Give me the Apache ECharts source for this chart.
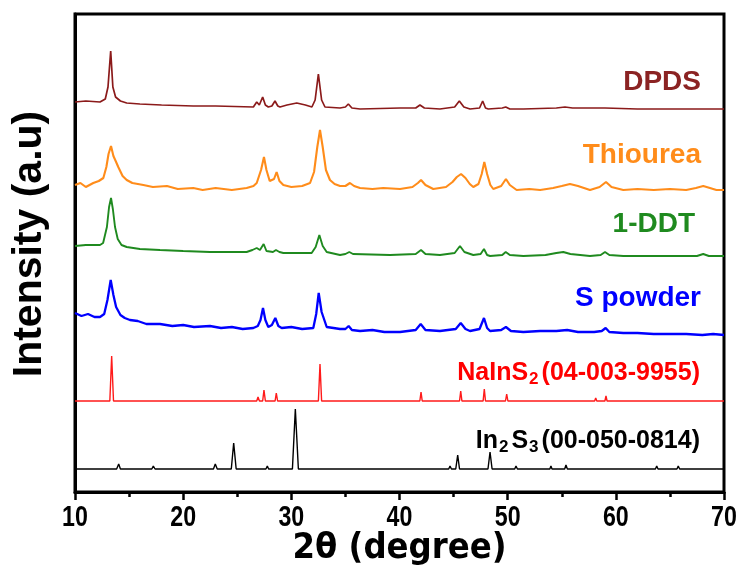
<!DOCTYPE html>
<html>
<head>
<meta charset="utf-8">
<script src="https://cdn.jsdelivr.net/npm/echarts@6/dist/echarts.min.js"></script>
<style>
  html, body { margin: 0; padding: 0; background: #fff; }
  #chart { width: 739px; height: 574px; }
</style>
</head>
<body>
<div id="chart"></div>
<script>
// XRD patterns, stacked with vertical offsets (intensity in a.u.), x = 2θ in degrees.
const xTicks = [10, 20, 30, 40, 50, 60, 70];

const dpds = [[10,390],[11,391],[12.31,390],[12.8,393],[13.05,405],[13.3,441],[13.5,405],[13.75,395],[14.2,391],[14.78,389],[16,388],[18,387],[20.94,386],[23,386],[26.49,385],[26.8,390],[27.04,387],[27.35,395],[27.6,387],[27.87,385],[28.2,386],[28.49,391],[28.75,386],[28.95,385],[29.6,387],[30.5,389],[31.3,387],[31.9,385],[32.2,392],[32.5,418],[32.8,392],[33.11,385],[34.5,384],[35.0,385],[35.27,388],[35.6,384],[36.35,383],[40.05,384],[41.5,384],[41.89,387],[42.3,384],[43.74,383],[45.1,385],[45.53,391],[45.95,385],[46.52,383],[47.4,384],[47.69,391],[47.95,384],[48.21,383],[49.5,384],[49.82,385],[50.2,383],[51.45,383],[54.5,384],[55.3,385],[56,384],[58.5,384],[59,384],[62,383],[66,383],[70,383]];

const thiourea = [[10,307],[10.5,309],[11,305],[11.69,309],[12.2,311],[12.62,314],[12.9,325],[13.1,338],[13.33,346],[13.55,336],[13.8,330],[14.0,325],[14.4,316],[14.78,312],[15.3,309],[16.32,307],[17.2,305],[18.5,306],[19.5,303],[20.94,304],[21.8,302],[23,304],[24.5,302],[25.87,304],[26.5,306],[26.8,309],[27.2,322],[27.47,335],[27.7,322],[28.0,311],[28.18,309],[28.4,313],[28.64,320],[28.9,311],[29.26,307],[30,305],[31,306],[31.73,309],[32.1,320],[32.4,345],[32.65,362],[32.9,345],[33.2,322],[33.57,312],[34.0,308],[34.5,306],[35.0,306],[35.42,309],[35.8,306],[36.35,304],[37.5,303],[38.5,304],[40.05,303],[41.2,305],[41.7,309],[41.99,312],[42.4,307],[43.12,303],[44.3,305],[44.9,310],[45.3,315],[45.69,318],[46.1,314],[46.5,308],[46.82,305],[47.3,308],[47.6,318],[47.84,330],[48.1,318],[48.4,307],[48.67,303],[49.4,306],[49.84,313],[50.2,307],[50.83,302],[52,303],[53,302],[54.2,304],[55,306],[55.76,308],[56.5,306],[57.61,302],[58.5,305],[59.09,310],[59.6,305],[60.69,302],[62,303],[63.5,302],[65,303],[66.5,302],[67.4,304],[68.08,306],[68.7,304],[69.3,302],[70,302]];

const ddt = [[10,246],[11,247],[12.31,247],[12.6,249],[12.95,265],[13.15,285],[13.33,294],[13.5,283],[13.7,265],[13.95,253],[14.3,247],[14.78,245],[16,243],[17.86,242],[20,241],[22.48,240],[24,240],[25.87,240],[26.4,242],[26.8,244],[27.1,242],[27.44,248],[27.7,241],[27.87,240],[28.3,240],[28.58,242],[28.9,240],[29.26,239],[31.88,239],[32.25,245],[32.59,257],[32.9,246],[33.27,240],[34.5,237],[35.0,238],[35.36,240],[35.7,238],[39.12,237],[41.5,238],[41.99,242],[42.4,238],[43.74,237],[45.1,239],[45.59,246],[46.0,240],[46.82,237],[47.5,238],[47.81,243],[48.1,237],[48.37,236],[49.5,237],[49.82,240],[50.2,237],[51.45,236],[53.5,237],[54.5,239],[55.14,240],[55.8,238],[57.61,236],[58.6,237],[59.0,240],[59.4,237],[60.69,236],[63,236],[65,236],[67.5,236],[68.08,238],[68.6,236],[70,236]];

const sPowder = [[10,179],[10.6,176],[11.2,178],[11.8,175],[12.31,175],[12.7,178],[13.0,192],[13.3,212],[13.55,197],[13.8,185],[14.2,177],[14.6,174],[15.08,172],[15.8,171],[16.6,168],[17.86,168],[19,166],[20,167],[21,165],[22.48,166],[23.5,164],[24.5,165],[25.5,163],[26.49,164],[26.9,166],[27.15,172],[27.38,184],[27.6,172],[27.87,165],[28.2,167],[28.52,174],[28.8,166],[29.11,164],[30,165],[31,163],[32.03,164],[32.3,178],[32.53,199],[32.8,180],[33.27,165],[33.9,164],[34.5,163],[35.0,163],[35.3,166],[35.6,162],[36.35,161],[37.5,162],[38.6,160],[40.05,160],[41.5,162],[41.96,168],[42.4,162],[43.74,161],[45.2,163],[45.66,169],[46.1,163],[46.52,161],[47.4,163],[47.81,174],[48.1,164],[48.37,161],[49.4,162],[49.84,165],[50.3,161],[51.45,160],[53,161],[54.5,161],[55.5,162],[56.5,160],[58,160],[58.7,161],[59.06,164],[59.4,160],[60.69,159],[62,159],[63.5,158],[65,158],[66.5,158],[68,157],[69,158],[70,157]];

const naInS2 = [[10,91],[13.22,91],[13.39,136],[13.56,91],[26.8,91],[26.92,95],[27.05,91],[27.35,91],[27.47,102],[27.6,91],[28.5,91],[28.61,99],[28.73,91],[32.5,91],[32.65,128],[32.8,91],[35.32,91],[35.42,93],[35.52,91],[41.88,91],[41.99,100],[42.1,91],[45.55,91],[45.66,101],[45.77,91],[47.73,91],[47.84,103],[47.95,91],[49.8,91],[49.91,98],[50.02,91],[53.75,91],[53.85,93],[53.95,91],[55.66,91],[55.76,93],[55.86,91],[58.04,91],[58.14,94],[58.24,91],[58.99,91],[59.09,96],[59.19,91],[65.37,91],[65.47,93],[65.57,91],[68.14,91],[68.24,93],[68.34,91],[70,91]];

const in2S3 = [[10,23],[13.85,23],[14.04,28],[14.2,23],[17.1,23],[17.24,26],[17.4,23],[21.95,23],[22.08,25],[22.2,23],[22.8,23],[22.97,28],[23.15,23],[24.45,23],[24.67,49],[24.9,23],[27.65,23],[27.78,26],[27.9,23],[30.1,23],[30.37,83],[30.65,23],[36.15,23],[36.28,25],[36.4,23],[44.55,23],[44.67,26],[44.8,23],[45.2,23],[45.38,37],[45.55,23],[48.18,23],[48.37,40],[48.56,23],[50.65,23],[50.77,26],[50.9,23],[53.9,23],[54.0,26],[54.1,23],[55.27,23],[55.39,27],[55.52,23],[59.6,23],[59.7,25],[59.82,23],[61.8,23],[61.9,25],[62.02,23],[63.66,23],[63.78,26],[63.9,23],[65.65,23],[65.77,26],[65.9,23],[70,23]];

const seriesNames = ['DPDS', 'Thiourea', '1-DDT', 'S powder', 'NaInS2', 'In2S3'];
const seriesData = [dpds, thiourea, ddt, sPowder, naInS2, in2S3];
const lineColors = ['#8b1a1a', '#ff8c1a', '#1f8a1f', '#0000ff', '#ff1a1a', '#000000'];
const lineWidths = [1.7, 2.1, 1.9, 2.3, 1.4, 1.4];

const chart = echarts.init(document.getElementById('chart'), null, { renderer: 'canvas' });

const sans = '"Liberation Sans", Arial, sans-serif';
const labelFont = 'bold 28px ' + sans;

chart.setOption({
  animation: false,
  backgroundColor: '#ffffff',
  grid: { left: 75, right: 15, top: 14, bottom: 82, show: true, borderColor: '#000', borderWidth: 3 },
  xAxis: {
    type: 'value', min: xTicks[0], max: xTicks[xTicks.length - 1], interval: 10,
    name: '2θ (degree)', nameLocation: 'middle', nameGap: 39,
    nameTextStyle: { fontFamily: '"Liberation Sans Narrow", "DejaVu Sans Condensed", sans-serif', fontWeight: 'bold', fontSize: 36, color: '#000' },
    axisLine: { show: true, lineStyle: { color: '#000', width: 3 } },
    axisTick: { show: true, inside: false, length: 8, lineStyle: { color: '#000', width: 2.5 } },
    minorTick: { show: true, splitNumber: 2, length: 5, lineStyle: { color: '#000', width: 2.5 } },
    // tick labels are drawn below as condensed text at the axis' own tick positions
    axisLabel: { show: false },
    splitLine: { show: false }
  },
  yAxis: {
    type: 'value', min: 0, max: 478,
    axisLine: { show: true, lineStyle: { color: '#000', width: 3 } },
    axisTick: { show: false }, axisLabel: { show: false }, splitLine: { show: false }
  },
  series: seriesData.map((d, i) => ({
    name: seriesNames[i], type: 'line', data: d, showSymbol: false, smooth: false,
    lineStyle: { color: lineColors[i], width: lineWidths[i] }, z: 2
  }))
});

// Condensed bold tick labels positioned through the x axis scale
const tickLabels = xTicks.map(v => ({
  type: 'text',
  x: chart.convertToPixel({ xAxisIndex: 0 }, v),
  y: 518,
  scaleX: 0.8,
  style: { text: String(v), font: 'bold 29px ' + sans, fill: '#000', align: 'center', verticalAlign: 'middle' }
}));

const sampleLabels = [
  { type: 'text', x: 701, y: 82, style: { text: 'DPDS', font: labelFont, fill: '#8b2323', align: 'right', verticalAlign: 'middle' } },
  { type: 'text', x: 701, y: 155, style: { text: 'Thiourea', font: labelFont, fill: '#ff8c1a', align: 'right', verticalAlign: 'middle' } },
  { type: 'text', x: 695, y: 224, style: { text: '1-DDT', font: labelFont, fill: '#1f8a1f', align: 'right', verticalAlign: 'middle' } },
  { type: 'text', x: 701, y: 298, style: { text: 'S powder', font: labelFont, fill: '#0000ff', align: 'right', verticalAlign: 'middle' } },
  { type: 'text', x: 700, y: 373, style: {
      text: '{m|NaInS}{s|2}{m|(04-003-9955)}', align: 'right', verticalAlign: 'middle',
      rich: {
        m: { fontFamily: sans, fontWeight: 'bold', fontSize: 25, fill: '#ff0000', lineHeight: 30, verticalAlign: 'middle' },
        s: { fontFamily: sans, fontWeight: 'bold', fontSize: 17, fill: '#ff0000', lineHeight: 30, verticalAlign: 'bottom', padding: [0, 3, 0, 1] }
      } } },
  { type: 'text', x: 700, y: 441, style: {
      text: '{m|In}{s|2}{m|S}{s|3}{m|(00-050-0814)}', align: 'right', verticalAlign: 'middle',
      rich: {
        m: { fontFamily: sans, fontWeight: 'bold', fontSize: 25, fill: '#000', lineHeight: 30, verticalAlign: 'middle' },
        s: { fontFamily: sans, fontWeight: 'bold', fontSize: 17, fill: '#000', lineHeight: 30, verticalAlign: 'bottom', padding: [0, 3, 0, 1] }
      } } }
];

const yTitle = {
  type: 'text', x: 30, y: 244, rotation: Math.PI / 2,
  style: { text: 'Intensity (a.u)', font: 'bold 41px ' + sans, fill: '#000', align: 'center', verticalAlign: 'middle' }
};

chart.setOption({ graphic: tickLabels.concat(sampleLabels, [yTitle]) });
</script>
</body>
</html>
